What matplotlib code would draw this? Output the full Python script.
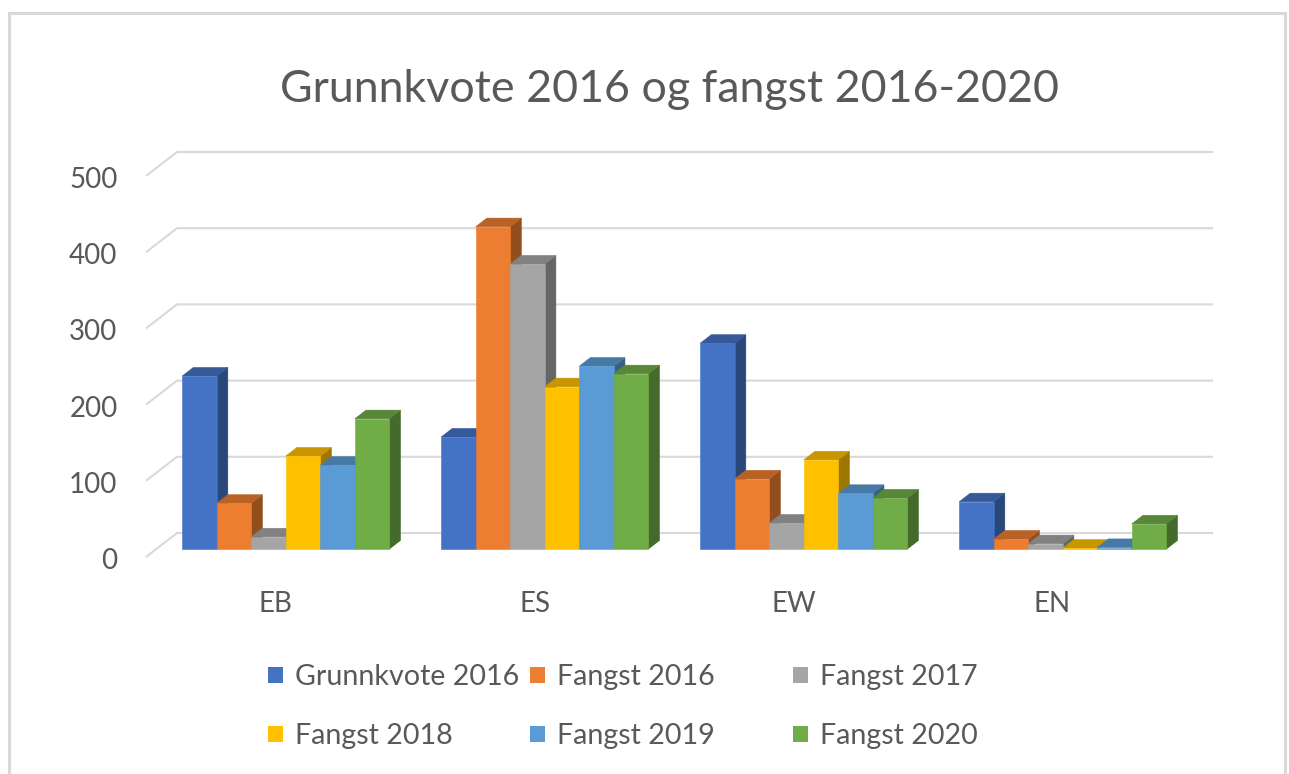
import matplotlib
matplotlib.use("Agg")
import matplotlib.pyplot as plt
from matplotlib.patches import Polygon, Rectangle
from matplotlib.lines import Line2D
import matplotlib.transforms as mtransforms
import matplotlib.colors as mcolors
import numpy as np

# ---------------- data ----------------
categories = ["EB", "ES", "EW", "EN"]
series_names = ["Grunnkvote 2016", "Fangst 2016", "Fangst 2017",
                "Fangst 2018", "Fangst 2019", "Fangst 2020"]
grunnkvote_2016 = [227, 147, 270, 62]
fangst_2016 = [60, 423, 92, 13]
fangst_2017 = [16, 374, 34, 7]
fangst_2018 = [122, 213, 117, 1]
fangst_2019 = [110, 240, 73, 2]
fangst_2020 = [171, 230, 67, 33]
series_values = [grunnkvote_2016, fangst_2016, fangst_2017,
                 fangst_2018, fangst_2019, fangst_2020]
y_ticks = [0, 100, 200, 300, 400, 500]
title = "Grunnkvote 2016 og fangst 2016-2020"

colors = ['#4472C4', '#ED7D31', '#A5A5A5', '#FFC000', '#5B9BD5', '#70AD47']

# ---------------- layout (pixels) ----------------
W, H = 1289, 774
PX = 259.0      # px per category (front plane)
PY = 0.762      # px per value unit
X0, Y0 = 146.0, 557.0   # front floor origin (px from left, px from top)
DXP, DYP = 31.0, 24.0   # floor depth offset in px
DX, DY = DXP / PX, DYP / PY
D0, BD = 0.33, 0.36     # bar front depth fraction and bar depth fraction
GAP = 0.1               # per side gap (category units)

plt.rcParams['font.family'] = ['Lato', 'DejaVu Sans']
TXT = '#595959'

fig = plt.figure(figsize=(W / 100, H / 100), dpi=100)
fig.patch.set_facecolor('white')
ax = fig.add_axes([0, 0, 1, 1])
ax.set_xlim(-X0 / PX, (W - X0) / PX)
ax.set_ylim(-(H - Y0) / PY, Y0 / PY)
ax.axis('off')

# chart border
bc = '#D9D9D9'
for (xs, ys) in [((8.5, 8.5), (12.5, H + 5)), ((8.5, 1284.5), (12.5, 12.5)),
                 ((1284.5, 1284.5), (12.5, H + 5))]:
    fig.add_artist(Line2D([x / W for x in xs], [1 - y / H for y in ys],
                          color=bc, lw=2.2, transform=fig.transFigure))

# gridlines (floor diagonal + back wall)
ncat = len(categories)
for v in y_ticks:
    ax.plot([0, DX, ncat + DX], [v, v + DY, v + DY], color='#D9D9D9',
            lw=1.5, zorder=1, solid_capstyle='butt')

# tick labels
tick_tr = mtransforms.offset_copy(ax.transData, fig=fig, x=0, y=-12, units='dots')
for v in y_ticks:
    ax.text(-0.11, v, str(v), transform=tick_tr, ha='right', va='baseline',
            fontsize=20, color=TXT)

# category labels
cat_tr = mtransforms.offset_copy(ax.transData, fig=fig, x=0, y=-55, units='dots')
for i, c in enumerate(categories):
    ax.text(i + 0.5, 0, c, transform=cat_tr, ha='center', va='baseline',
            fontsize=20, color=TXT)

# bars
nser = len(series_values)
w = (1 - 2 * GAP) / nser
def shade(c, f):
    r, g, b = mcolors.to_rgb(c)
    return (r * f, g * f, b * f)

z = 3
for i in range(ncat):
    for j in range(nser):
        v = series_values[j][i]
        c = colors[j]
        xl = i + GAP + j * w + D0 * DX
        yb = D0 * DY
        xr = xl + w
        bx, by = BD * DX, BD * DY
        side = Polygon([(xr, yb), (xr + bx, yb + by), (xr + bx, yb + v + by), (xr, yb + v)],
                       closed=True, facecolor=shade(c, 0.62), edgecolor=shade(c, 0.62),
                       lw=0.4, zorder=z)
        ax.add_patch(side)
        top = Polygon([(xl, yb + v), (xr, yb + v), (xr + bx, yb + v + by), (xl + bx, yb + v + by)],
                      closed=True, facecolor=shade(c, 0.78), edgecolor=shade(c, 0.78),
                      lw=0.4, zorder=z)
        ax.add_patch(top)
        ax.bar(xl, v, width=w, bottom=yb, align='edge', color=c, edgecolor=c,
               lw=0.4, zorder=z)
        z += 1

# title
fig.text(669 / W, 1 - 102 / H, title, ha='center', va='baseline', fontsize=32.2, color=TXT)

# legend (3 columns, 2 rows)
col_x = [268, 530, 793]
row_y = [675, 734]
for k, name in enumerate(series_names):
    r, cidx = divmod(k, 3)
    x, y = col_x[cidx], row_y[r]
    fig.patches.append(Rectangle((x / W, 1 - (y + 8) / H), 15 / W, 16 / H,
                                 transform=fig.transFigure, facecolor=colors[k],
                                 edgecolor='none'))
    fig.text((x + 27) / W, 1 - (y + 10) / H, name, ha='left', va='baseline',
             fontsize=20.6, color=TXT)

fig.savefig('out.png', dpi=100, facecolor='white')
